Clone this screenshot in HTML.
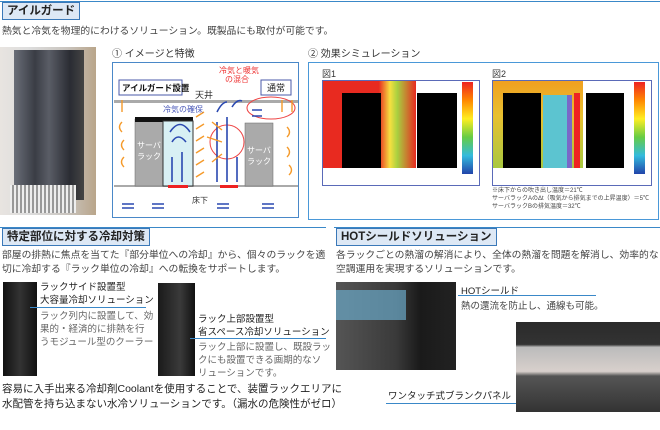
<!DOCTYPE html>
<html><head><meta charset="utf-8"><style>
*{margin:0;padding:0}
body{width:660px;height:430px;background:#fff;position:relative;overflow:hidden;font-family:"Liberation Sans","Noto Sans CJK JP",sans-serif;color:#333}
.a{position:absolute;white-space:nowrap}
.tt{position:absolute;white-space:nowrap;background:#dde8f5;border:1px solid #3a78b8;font-weight:bold;font-size:11.5px;color:#222;padding:0 4px;line-height:16px}
.t{font-size:9.5px;color:#444}
.hl{position:absolute;height:1px;background:#3a88c8}
</style></head><body>
<div class="hl" style="left:0;top:1px;width:660px"></div>
<div class="tt" style="left:2px;top:2px">アイルガード</div>
<div class="a t" style="left:2px;top:23px;font-size:9.8px">熱気と冷気を物理的にわけるソリューション。既製品にも取付が可能です。</div>
<div class="a" style="left:0;top:47px;width:96px;height:168px;background:linear-gradient(90deg,#e8e4e0,#ddd 30%,#c9c4be 70%,#b9a58a);"></div>
<div class="a" style="left:14px;top:50px;width:70px;height:150px;background:linear-gradient(90deg,#6a6e78,#3a3d45 30%,#5a5d66 50%,#2a2c33 80%,#444);"></div>
<div class="a" style="left:10px;top:185px;width:66px;height:28px;background:repeating-linear-gradient(90deg,#eee 0 2px,#999 2px 4px)"></div>
<div class="a" style="left:112px;top:45px;font-size:10px">① イメージと特徴</div>
<div class="a" style="left:308px;top:45px;font-size:10px">② 効果シミュレーション</div>
<svg class="a" style="left:112px;top:62px" width="188" height="157" viewBox="0 0 188 157">
<rect x="0.5" y="0.5" width="186" height="155" fill="#fff" stroke="#4a88c8"/>
<rect x="2" y="38" width="184" height="3" fill="#aaa"/>
<rect x="2" y="123" width="184" height="2" fill="#aaa"/>
<rect x="23" y="57" width="28" height="67" fill="#aaa" stroke="#666" stroke-width=".5"/>
<rect x="23" y="55" width="58" height="5" fill="#111"/>
<rect x="51" y="59" width="30" height="65" fill="#d8f0f4" stroke="#333"/>
<rect x="133" y="61" width="28" height="63" fill="#aaa" stroke="#666" stroke-width=".5"/>
<rect x="56" y="123" width="20" height="3" fill="#e22"/>
<rect x="108" y="123" width="18" height="3" fill="#e22"/>
<circle cx="115" cy="80" r="17" fill="none" stroke="#e44"/>
<ellipse cx="159" cy="46" rx="24" ry="11" fill="none" stroke="#e44"/>
<g stroke="#2a48b0" stroke-width="1.6" fill="none">
<path d="M60 120V95M70 120V90M105 120V60M115 120V55M125 120V95M140 48h10M140 54h10"/>
<path d="M60 80q6-10 14 0M58 70q10-15 20 0M105 50q5-10 10-10M120 45q5-8 10-6"/>
<path d="M10 142h12M10 146h12M40 142h12M40 146h12M105 142h12M105 146h12M150 142h12M150 146h12"/>
</g>
<g stroke="#f59a2a" stroke-width="1.4" fill="none">
<path d="M10 60q-5 5 0 10M12 78q-5 5 0 10M12 95q-5 5 0 10M175 65q5 5 0 10M175 85q5 5 0 10M177 103q5 5 0 10M10 50V38M180 50V38M170 50V38"/>
<path d="M92 50l-8 5M92 62l-8 5M92 74l-8 5M92 86l-8 5M92 98l-8 5M95 75l15 5M92 110l-8 5M100 60l10 8M100 100l10-8"/>
</g>
<rect x="7" y="18" width="63" height="15" fill="#fff" stroke="#4858a8"/>
<text x="10" y="29" font-size="8.5" font-weight="bold" fill="#111">アイルガード設置</text>
<rect x="149" y="18" width="30" height="15" fill="#fff" stroke="#4858a8"/>
<text x="155" y="29" font-size="9" fill="#222">通常</text>
<text x="83" y="36" font-size="9" fill="#333">天井</text>
<text x="51" y="50" font-size="8" fill="#4a58b8">冷気の確保</text>
<text x="107" y="11" font-size="8" fill="#e33">冷気と暖気</text>
<text x="113" y="20" font-size="8" fill="#e33">の混合</text>
<text x="25" y="86" font-size="8" fill="#fff">サーバ</text><text x="25" y="97" font-size="8" fill="#fff">ラック</text>
<text x="135" y="91" font-size="8" fill="#fff">サーバ</text><text x="135" y="102" font-size="8" fill="#fff">ラック</text>
<text x="80" y="141" font-size="8" fill="#333">床下</text>
</svg>
<div class="a" style="left:308px;top:62px;width:349px;height:156px;border:1px solid #4a98d8"></div>
<div class="a" style="left:322px;top:67px;font-size:9px">図1</div>
<div class="a" style="left:492px;top:67px;font-size:9px">図2</div>
<div class="a" style="left:322px;top:80px;width:156px;height:104px;border:1px solid #5a6ab8;background:#fff"></div>
<div class="a" style="left:323px;top:81px;width:93px;height:87px;background:linear-gradient(90deg,#e82a20 0,#e82a20 60%,#f6e040 72%,#a8d040 80%,#e82a20 100%)"></div>
<div class="a" style="left:342px;top:93px;width:39px;height:75px;background:#000"></div>
<div class="a" style="left:417px;top:93px;width:40px;height:75px;background:#000"></div>
<div class="a" style="left:462px;top:82px;width:11px;height:92px;background:linear-gradient(#e22,#f80,#fe2,#6c4,#3bd,#24a)"></div>
<div class="a" style="left:492px;top:80px;width:158px;height:104px;border:1px solid #5a6ab8;background:#fff"></div>
<div class="a" style="left:493px;top:81px;width:90px;height:87px;background:linear-gradient(#f0a020,#e8c030 40%,#a8c840)"></div>
<div class="a" style="left:503px;top:93px;width:38px;height:75px;background:#000"></div>
<div class="a" style="left:543px;top:95px;width:24px;height:73px;background:#5cc4d0"></div>
<div class="a" style="left:567px;top:95px;width:5px;height:73px;background:#7a68c8"></div>
<div class="a" style="left:574px;top:93px;width:6px;height:75px;background:#e22"></div>
<div class="a" style="left:586px;top:93px;width:38px;height:75px;background:#000"></div>
<div class="a" style="left:634px;top:82px;width:11px;height:92px;background:linear-gradient(#e22,#f80,#fe2,#6c4,#3bd,#24a)"></div>
<div class="a" style="left:492px;top:187px;font-size:6px;line-height:8px;color:#444">※床下からの吹き出し温度＝21℃<br>サーバラックAのΔt（吸気から排気までの上昇温度）＝5℃<br>サーバラックBの排気温度＝32℃</div>
<div class="hl" style="left:0;top:227px;width:326px"></div>
<div class="tt" style="left:2px;top:228px">特定部位に対する冷却対策</div>
<div class="a t" style="left:2px;top:249px;line-height:14px;font-size:9.8px">部屋の排熱に焦点を当てた『部分単位への冷却』から、個々のラックを適<br>切に冷却する『ラック単位の冷却』への転換をサポートします。</div>
<div class="a" style="left:3px;top:282px;width:34px;height:94px;background:linear-gradient(90deg,#111,#333 50%,#111)"></div>
<div class="a" style="left:40px;top:281px;font-size:9.5px;line-height:13px;color:#222">ラックサイド設置型<br>大容量冷却ソリューション</div>
<div class="hl" style="left:30px;top:307px;width:116px"></div>
<div class="a t" style="left:40px;top:310px;line-height:13px;color:#666">ラック列内に設置して、効<br>果的・経済的に排熱を行<br>うモジュール型のクーラー</div>
<div class="a" style="left:158px;top:283px;width:37px;height:93px;background:linear-gradient(90deg,#1a1a1a,#3a3a3a 60%,#111)"></div>
<div class="a" style="left:198px;top:313px;font-size:9.5px;line-height:13px;color:#222">ラック上部設置型<br>省スペース冷却ソリューション</div>
<div class="hl" style="left:190px;top:338px;width:136px"></div>
<div class="a t" style="left:198px;top:341px;line-height:13px;color:#666">ラック上部に設置し、既設ラッ<br>クにも設置できる画期的なソ<br>リューションです。</div>
<div class="a" style="left:2px;top:382px;font-size:10.5px;line-height:15px;color:#222">容易に入手出来る冷却剤Coolantを使用することで、装置ラックエリアに<br>水配管を持ち込まない水冷ソリューションです。（漏水の危険性がゼロ）</div>
<div class="hl" style="left:334px;top:227px;width:326px"></div>
<div class="tt" style="left:336px;top:228px">HOTシールドソリューション</div>
<div class="a t" style="left:336px;top:249px;line-height:14px;font-size:9.8px">各ラックごとの熱溜の解消により、全体の熱溜を問題を解消し、効率的な<br>空調運用を実現するソリューションです。</div>
<div class="a" style="left:336px;top:282px;width:120px;height:88px;background:linear-gradient(90deg,#555 0,#3a3a3a 50%,#1a1a1a 70%,#222)"></div>
<div class="a" style="left:336px;top:290px;width:70px;height:30px;background:#6aa8c8;opacity:.7"></div>
<div class="a" style="left:461px;top:283px;font-size:9.5px;color:#222">HOTシールド</div>
<div class="hl" style="left:458px;top:295px;width:138px"></div>
<div class="a t" style="left:461px;top:298px">熱の還流を防止し、通線も可能。</div>
<div class="a" style="left:516px;top:322px;width:144px;height:90px;background:linear-gradient(#2a2a2a 0,#333 25%,#bbb 28%,#d8d0cc 55%,#555 60%,#333 100%)"></div>
<div class="a" style="left:388px;top:388px;font-size:9.5px;color:#222">ワンタッチ式ブランクパネル</div>
<div class="hl" style="left:386px;top:403px;width:130px"></div>
</body></html>
